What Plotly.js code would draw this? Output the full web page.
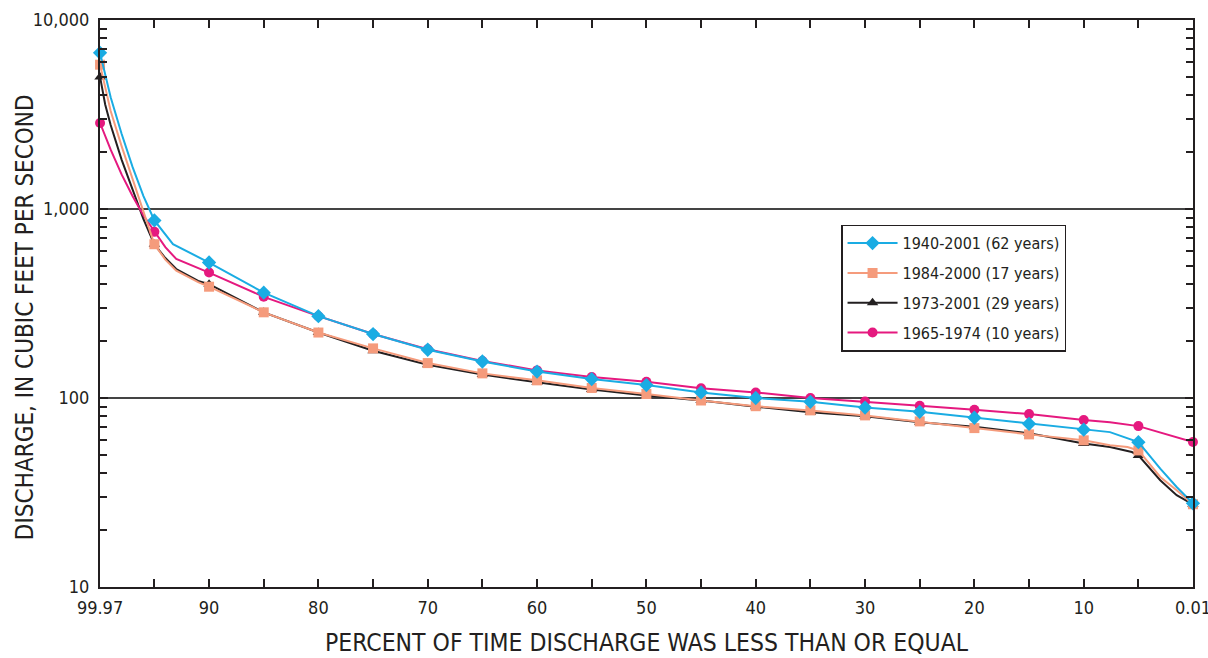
<!DOCTYPE html>
<html>
<head>
<meta charset="utf-8">
<script src="https://cdn.plot.ly/plotly-3.0.1.min.js"></script>
<style>
  html, body { margin: 0; padding: 0; background: #fff; }
  #chart { width: 1208px; height: 658px; }
</style>
</head>
<body>
<div id="chart"></div>
<script>
// ---- Data ----
// Percent of time discharge was less than or equal (x), discharge in ft3/s (y)
const markerPercents = [99.97, 95, 90, 85, 80, 75, 70, 65, 60, 55, 50, 45, 40, 35, 30, 25, 20, 15, 10, 5, 0.01];

const seriesNames = ['1940-2001 (62 years)', '1984-2000 (17 years)', '1973-2001 (29 years)', '1965-1974 (10 years)'];

const blueX = [99.97, 99, 98, 97, 96, 95, 93.3, 90, 85, 80, 75, 70, 65, 60, 55, 50, 45, 40, 35, 30, 25, 20, 15, 10, 7.6, 5, 3, 1.5, 0.01];
const blueY = [6700, 3900, 2500, 1670, 1170, 870, 651, 521, 361, 271, 218, 180, 156, 138, 126, 117, 107, 100, 95.5, 89, 84.5, 78.6, 73, 68, 66, 58.4, 42.3, 33.8, 27.7];

const salmonX = [99.97, 99, 98, 97, 96, 95, 94, 93, 92, 91, 90, 85, 80, 75, 70, 65, 60, 55, 50, 45, 40, 35, 30, 25, 20, 15, 10, 7.6, 6, 5, 3, 1.5, 0.01];
const salmonY = [5800, 3300, 2150, 1430, 960, 651, 540, 472, 440, 410, 388, 284, 222, 183, 153, 135, 124, 113, 105, 97, 90.5, 86, 80.9, 75.2, 69.3, 64.2, 59.7, 56.2, 55, 52.8, 38.2, 32.5, 27.4];

const blackX = [99.97, 99.5, 99, 98, 97, 96, 95, 94, 93, 92, 91, 90, 85, 80, 75, 70, 65, 60, 55, 50, 45, 40, 35, 30, 25, 20, 15, 10, 7.6, 5.6, 5, 3, 1.5, 0.01];
const blackY = [5000, 3570, 2780, 1825, 1271, 885, 650, 550, 481, 447, 416, 400, 284, 222, 178, 150, 133, 121, 111, 103, 97, 90, 84, 80, 74.5, 70.5, 65, 57.5, 55, 51.8, 49.7, 36.7, 30.6, 27.4];

const magentaX = [99.97, 99, 98, 97, 96, 95, 94, 93, 92, 91, 90, 85, 80, 75, 70, 65, 60, 55, 50, 45, 40, 35, 30, 25, 20, 15, 10, 7.6, 5, 0.01];
const magentaY = [2850, 2060, 1524, 1172, 923, 757, 628, 544, 515, 487, 461, 343, 271, 218, 181, 157, 140, 129, 122, 112.7, 107, 100, 95.8, 91, 86.6, 82.2, 76.4, 74.5, 71, 58.5];

const xTickVals = [99.97, 95, 90, 85, 80, 75, 70, 65, 60, 55, 50, 45, 40, 35, 30, 25, 20, 15, 10, 5, 0.01];
const xTickText = ['99.97', '', '90', '', '80', '', '70', '', '60', '', '50', '', '40', '', '30', '', '20', '', '10', '', '0.01'];
const yTickVals = [10, 100, 1000, 10000];
const yTickText = ['10', '100', '1,000', '10,000'];
const yMinorVals = [20, 30, 40, 50, 60, 70, 80, 90, 200, 300, 400, 500, 600, 700, 800, 900, 2000, 3000, 4000, 5000, 6000, 7000, 8000, 9000];

const xTitle = 'PERCENT OF TIME DISCHARGE WAS LESS THAN OR EQUAL';
const yTitle = 'DISCHARGE, IN CUBIC FEET PER SECOND';

// ---- Styles ----
const INK = '#231F20';
const FONT = '"DejaVu Sans Condensed", "Liberation Sans Narrow", "Roboto", sans-serif';
const styles = {
  blue:    { color: '#1AACE3', symbol: 'diamond',     size: 11 },
  salmon:  { color: '#F59B7C', symbol: 'square',      size: 10 },
  black:   { color: '#231F20', symbol: 'triangle-up', size: 10 },
  magenta: { color: '#E5197F', symbol: 'circle',      size: 10 }
};

function markerPoints(xs, ys) {
  const mx = [], my = [];
  xs.forEach((x, i) => { if (markerPercents.includes(x)) { mx.push(x); my.push(ys[i]); } });
  return { x: mx, y: my };
}

function seriesTraces(name, xs, ys, st, rank) {
  const m = markerPoints(xs, ys);
  return [
    { x: xs, y: ys, type: 'scatter', mode: 'lines', line: { color: st.color, width: 2 },
      showlegend: false, hoverinfo: 'skip' },
    { x: m.x, y: m.y, type: 'scatter', mode: 'markers', name: name, cliponaxis: false,
      marker: { color: st.color, symbol: st.symbol, size: st.size }, showlegend: false },
    { x: [null], y: [null], type: 'scatter', mode: 'lines+markers', name: name, legendrank: rank,
      legendgroup: 'g' + rank,
      line: { color: st.color, width: 2 },
      marker: { color: st.color, symbol: st.symbol, size: st.size }, showlegend: true }
  ];
}

const data = [].concat(
  seriesTraces(seriesNames[2], blackX, blackY, styles.black, 3),
  seriesTraces(seriesNames[3], magentaX, magentaY, styles.magenta, 4),
  seriesTraces(seriesNames[1], salmonX, salmonY, styles.salmon, 2),
  seriesTraces(seriesNames[0], blueX, blueY, styles.blue, 1)
);

const layout = {
  width: 1208, height: 658,
  margin: { l: 100, r: 15, t: 20, b: 71 },
  paper_bgcolor: '#fff', plot_bgcolor: '#fff',
  font: { family: FONT, color: INK, size: 18 },
  showlegend: true,
  legend: {
    x: 0.678, y: 0.639, xanchor: 'left', yanchor: 'top',
    bgcolor: '#fff', bordercolor: INK, borderwidth: 1.5,
    font: { family: FONT, size: 16, color: INK },
    tracegroupgap: 6, itemwidth: 50
  },
  xaxis: {
    range: [99.975, 0.005],
    tickmode: 'array', tickvals: xTickVals, ticktext: xTickText,
    ticks: 'inside', ticklen: 8, tickwidth: 2, tickcolor: INK,
    showline: true, linewidth: 2, linecolor: INK, mirror: 'ticks',
    showgrid: false, zeroline: false, ticklabeloverflow: 'allow', ticklabelstandoff: 3,
    tickfont: { size: 18, family: FONT, color: INK },
    title: { text: xTitle, font: { size: 24.5, family: FONT, color: INK }, standoff: 17 }
  },
  yaxis: {
    type: 'log', range: [1, 4],
    tickmode: 'array', tickvals: yTickVals, ticktext: yTickText,
    ticks: 'inside', ticklen: 8, tickwidth: 2, tickcolor: INK,
    showline: true, linewidth: 2, linecolor: INK, mirror: 'ticks',
    showgrid: true, gridcolor: '#444', gridwidth: 1.5, zeroline: false,
    minor: { tickmode: 'array', tickvals: yMinorVals, ticks: 'inside', ticklen: 7, tickwidth: 2, tickcolor: INK, showgrid: false },
    ticklabelstandoff: 5, ticklabeloverflow: 'allow',
    tickfont: { size: 18, family: FONT, color: INK }
  },
  annotations: [{
    text: yTitle, textangle: -90, showarrow: false,
    xref: 'paper', yref: 'paper', x: -0.0686, y: 0.476,
    xanchor: 'center', yanchor: 'middle',
    font: { size: 24, family: FONT, color: INK }
  }]
};

Plotly.newPlot('chart', data, layout, { displayModeBar: false, staticPlot: true });
</script>
</body>
</html>
